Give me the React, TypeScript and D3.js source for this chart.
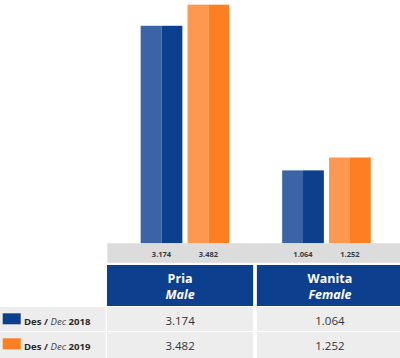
import * as d3 from 'd3'

// categories and series
const categories = ['Pria', 'Wanita']
const categoriesEn = ['Male', 'Female']
const seriesYears = ['2018', '2019']
const values2018 = [3.174, 1.064]
const values2019 = [3.482, 1.252]
const valueLabels2018 = ['3.174', '1.064']
const valueLabels2019 = ['3.482', '1.252']

const W = 400
const H = 358
const baseY = 243.3
const font = "'Open Sans', 'Noto Sans', sans-serif"

const colors = [
  { light: '#3c63a5', dark: '#0c3f8e' },
  { light: '#fe9851', dark: '#fe7f22' },
]

const App = () => {
  const series = [values2018, values2019]
  const seriesLabels = [valueLabels2018, valueLabels2019]

  // bar geometry
  const x0 = d3.scaleBand<string>().domain(categories).range([114.2, 397.2]).paddingInner(0.374).paddingOuter(0.187)
  const x1 = d3.scaleBand<string>().domain(seriesYears).range([0, x0.bandwidth()]).paddingInner(0.11)
  const y = d3.scaleLinear().domain([0, 3.55]).range([baseY, 0])

  // table columns
  const col = d3.scaleBand<string>().domain(categories).range([107, 403]).paddingInner(0.025)

  const rowTops = [307, 332]
  const rowH = [24, 26]

  return (
    <svg width={W} height={H} style={{ position: 'absolute', left: 0, top: 0, fontFamily: font }}>
      <rect width={W} height={H} fill="#ffffff" />

      {/* bars, each with a lighter left half */}
      {categories.map((c, ci) =>
        seriesYears.map((s, si) => {
          const bx = (x0(c) ?? 0) + (x1(s) ?? 0)
          const bw = x1.bandwidth()
          const top = y(series[si][ci])
          return (
            <g key={c + s}>
              <rect x={bx} y={top} width={bw / 2} height={baseY - top} fill={colors[si].light} />
              <rect x={bx + bw / 2} y={top} width={bw / 2} height={baseY - top} fill={colors[si].dark} />
            </g>
          )
        })
      )}

      {/* gray value strip */}
      <rect x={107.3} y={baseY} width={W - 107.3} height={19.5} fill="#dcdcdc" />
      {categories.map((c, ci) =>
        seriesYears.map((s, si) => (
          <text
            key={'v' + c + s}
            x={(x0(c) ?? 0) + (x1(s) ?? 0) + x1.bandwidth() / 2}
            y={256.5}
            textAnchor="middle"
            fontSize={7.5}
            fontWeight="bold"
            fill="#3a3a3a"
          >
            {seriesLabels[si][ci]}
          </text>
        ))
      )}

      {/* header cells */}
      {categories.map((c, ci) => (
        <g key={'h' + c}>
          <rect x={col(c)} y={265} width={col.bandwidth()} height={41} fill="#0c3f8e" />
          <text x={(col(c) ?? 0) + col.bandwidth() / 2} y={282.5} textAnchor="middle" fontSize={12.5} fontWeight="bold" fill="#ffffff">
            {c}
          </text>
          <text
            x={(col(c) ?? 0) + col.bandwidth() / 2}
            y={298.5}
            textAnchor="middle"
            fontSize={12.5}
            fontWeight="bold"
            fontStyle="italic"
            fill="#ffffff"
          >
            {categoriesEn[ci]}
          </text>
        </g>
      ))}

      {/* table rows */}
      {seriesYears.map((s, si) => (
        <g key={'r' + s}>
          <rect x={0} y={rowTops[si]} width={105.5} height={rowH[si]} fill="#ededed" />
          <rect x={2.7} y={rowTops[si] + 6.3} width={18} height={11} fill={colors[si].dark} />
          <text x={24} y={rowTops[si] + 18} fontSize={9.6} fill="#2a2a2a">
            <tspan fontWeight="bold">Des / </tspan>
            <tspan fontStyle="italic" fill="#444444">Dec</tspan>
            <tspan fontWeight="bold"> {s}</tspan>
          </text>
          {categories.map((c, ci) => (
            <g key={'c' + c + s}>
              <rect x={col(c)} y={rowTops[si]} width={col.bandwidth()} height={rowH[si]} fill="#ededed" />
              <text
                x={(col(c) ?? 0) + col.bandwidth() / 2}
                y={rowTops[si] + 17.5}
                textAnchor="middle"
                fontSize={11.5}
                fill="#333333"
              >
                {seriesLabels[si][ci]}
              </text>
            </g>
          ))}
        </g>
      ))}
    </svg>
  )
}

export default App
